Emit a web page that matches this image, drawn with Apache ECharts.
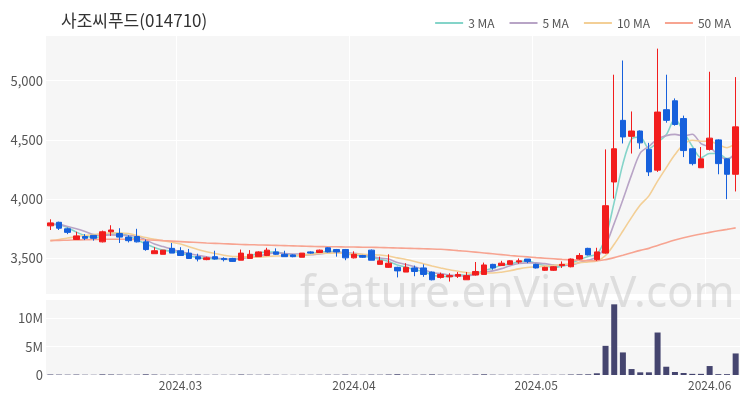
<!DOCTYPE html>
<html>
<head>
<meta charset="utf-8">
<script src="https://cdn.jsdelivr.net/npm/echarts@6/dist/echarts.min.js"></script>
<style>
  html, body { margin: 0; padding: 0; background: #fff; }
  #main { width: 750px; height: 400px; }
</style>
</head>
<body>
<div id="main"></div>
<script>
// 종목명
const stockName = '사조씨푸드(014710)'

// 거래일 (카테고리)
const dates = [
  '2024-02-07','2024-02-08','2024-02-13','2024-02-14','2024-02-15','2024-02-16','2024-02-19','2024-02-20','2024-02-21','2024-02-22',
  '2024-02-23','2024-02-26','2024-02-27','2024-02-28','2024-02-29','2024-03-04','2024-03-05','2024-03-06','2024-03-07','2024-03-08',
  '2024-03-11','2024-03-12','2024-03-13','2024-03-14','2024-03-15','2024-03-18','2024-03-19','2024-03-20','2024-03-21','2024-03-22',
  '2024-03-25','2024-03-26','2024-03-27','2024-03-28','2024-03-29','2024-04-01','2024-04-02','2024-04-03','2024-04-04','2024-04-05',
  '2024-04-08','2024-04-09','2024-04-11','2024-04-12','2024-04-15','2024-04-16','2024-04-17','2024-04-18','2024-04-19','2024-04-22',
  '2024-04-23','2024-04-24','2024-04-25','2024-04-26','2024-04-29','2024-04-30','2024-05-02','2024-05-03','2024-05-07','2024-05-08',
  '2024-05-09','2024-05-10','2024-05-13','2024-05-14','2024-05-16','2024-05-17','2024-05-20','2024-05-21','2024-05-22','2024-05-23',
  '2024-05-24','2024-05-27','2024-05-28','2024-05-29','2024-05-30','2024-05-31','2024-06-03','2024-06-04','2024-06-05','2024-06-07'
]

// 시가 / 종가 / 저가 / 고가
const openP = [
  3775,3805,3750,3660,3685,3695,3640,3725,3710,3680,
  3685,3640,3540,3535,3585,3565,3545,3515,3490,3515,
  3500,3500,3485,3500,3515,3525,3555,3535,3530,3510,
  3555,3550,3590,3575,3575,3505,3525,3570,3450,3425,
  3425,3385,3420,3420,3385,3340,3345,3350,3320,3360,
  3365,3450,3440,3450,3470,3495,3450,3400,3400,3440,
  3430,3495,3585,3490,3545,4145,4665,4530,4575,4420,
  4245,4755,4830,4680,4425,4265,4420,4500,4340,4210
]
const closeP = [
  3800,3755,3720,3690,3670,3670,3725,3740,3680,3650,
  3640,3575,3565,3570,3545,3525,3500,3495,3505,3495,
  3490,3475,3545,3535,3555,3570,3535,3515,3515,3545,
  3545,3570,3555,3555,3505,3535,3510,3485,3480,3460,
  3395,3425,3390,3365,3320,3365,3355,3365,3355,3390,
  3445,3420,3460,3480,3480,3475,3420,3425,3430,3450,
  3495,3525,3530,3555,3945,4425,4525,4575,4475,4230,
  4735,4665,4630,4410,4300,4340,4515,4300,4210,4610
]
const lowP = [
  3740,3740,3705,3660,3655,3650,3635,3690,3630,3635,
  3635,3565,3540,3535,3545,3525,3500,3475,3485,3490,
  3475,3470,3485,3500,3515,3520,3530,3515,3510,3510,
  3540,3550,3550,3515,3485,3500,3505,3485,3450,3420,
  3340,3385,3350,3345,3315,3330,3305,3335,3320,3355,
  3365,3405,3440,3450,3455,3460,3415,3395,3395,3420,
  3425,3490,3525,3480,3540,4005,4470,4385,4425,4195,
  4230,4645,4620,4355,4285,4265,4410,4210,4000,4065
]
const highP = [
  3830,3810,3760,3725,3705,3695,3735,3780,3755,3695,
  3750,3660,3595,3570,3630,3595,3580,3540,3515,3565,
  3510,3505,3575,3570,3560,3590,3585,3565,3535,3545,
  3560,3575,3595,3580,3580,3560,3530,3575,3515,3535,
  3430,3460,3440,3450,3390,3380,3375,3385,3385,3470,
  3465,3455,3480,3485,3500,3495,3455,3430,3435,3475,
  3500,3545,3590,3590,4420,5050,5170,4740,4580,4475,
  5270,5050,4850,4705,4430,4440,5075,4505,4345,5030
]

// 거래량
const volume = [
  90000,70000,60000,80000,50000,40000,110000,90000,70000,50000,
  60000,120000,80000,50000,60000,50000,60000,70000,40000,50000,
  40000,50000,90000,60000,50000,70000,50000,40000,30000,50000,
  40000,50000,60000,50000,80000,50000,40000,70000,60000,90000,
  130000,70000,60000,70000,110000,60000,50000,40000,50000,90000,
  120000,60000,50000,50000,40000,50000,70000,40000,40000,50000,
  90000,110000,120000,300000,5140000,12460000,3980000,1050000,470000,470000,
  7490000,1460000,530000,350000,200000,200000,1580000,150000,150000,3800000
]

// 이동평균선
const ma3 = [
  3785,3785,3758,3722,3693,3677,3688,3712,3715,3690,
  3657,3622,3593,3570,3560,3547,3523,3507,3500,3498,
  3497,3487,3503,3518,3545,3553,3553,3540,3522,3525,
  3535,3553,3557,3560,3538,3532,3517,3510,3492,3475,
  3445,3427,3403,3393,3358,3350,3347,3362,3358,3370,
  3397,3418,3442,3453,3473,3478,3458,3440,3425,3435,
  3458,3490,3517,3537,3677,3975,4298,4508,4525,4427,
  4480,4543,4677,4568,4447,4350,4385,4385,4342,4373
]
const ma5 = [
  3795,3785,3770,3750,3727,3701,3695,3699,3697,3693,
  3687,3657,3622,3600,3579,3556,3541,3527,3514,3504,
  3497,3492,3502,3508,3520,3536,3548,3542,3538,3536,
  3531,3538,3546,3554,3546,3544,3532,3518,3503,3494,
  3466,3449,3430,3407,3379,3373,3359,3354,3352,3366,
  3382,3395,3414,3439,3457,3463,3463,3456,3446,3440,
  3444,3465,3486,3511,3610,3796,3996,4205,4389,4446,
  4508,4536,4547,4534,4548,4469,4439,4373,4333,4395
]
const ma10 = [
  3650,3660,3672,3684,3694,3702,3710,3714,3714,3710,
  3694,3676,3661,3649,3636,3622,3599,3575,3557,3542,
  3527,3517,3515,3511,3512,3517,3520,3522,3523,3528,
  3534,3543,3544,3546,3541,3538,3535,3532,3529,3520,
  3505,3491,3474,3455,3437,3420,3404,3392,3380,3373,
  3378,3377,3384,3396,3412,3423,3429,3435,3443,3449,
  3454,3464,3471,3479,3525,3620,3731,3846,3950,4028,
  4152,4266,4376,4462,4497,4489,4488,4460,4434,4472
]
const ma50 = [
  3650,3652,3654,3656,3658,3660,3661,3662,3662,3661,
  3660,3657,3654,3650,3646,3642,3638,3634,3630,3627,
  3624,3621,3618,3616,3614,3612,3610,3608,3606,3604,
  3602,3600,3599,3598,3597,3596,3595,3594,3592,3590,
  3588,3586,3584,3582,3580,3577,3572,3566,3560,3553,
  3546,3539,3532,3525,3519,3513,3507,3502,3497,3492,
  3488,3484,3481,3480,3490,3507,3527,3548,3568,3585,
  3610,3633,3655,3675,3692,3706,3720,3733,3745,3758
]

const upColor = '#f21d1d'
const downColor = '#1660dc'
const maColors = ['#84d4c9', '#b8a4c6', '#f3cf96', '#f7a491']

// 월이 바뀌는 날에만 라벨 표시
function isMonthStart(idx) {
  if (idx === 0) return false
  return dates[idx].slice(0, 7) !== dates[idx - 1].slice(0, 7)
}

let myChart = echarts.init(document.getElementById('main'))

let candleData = dates.map(function (d, i) {
  return [openP[i], closeP[i], lowP[i], highP[i]]
})

function maSeries(name, data, color) {
  return {
    name: name,
    type: 'line',
    data: data,
    xAxisIndex: 0,
    yAxisIndex: 0,
    showSymbol: false,
    smooth: 0.3,
    lineStyle: { width: 1.6, color: color },
    itemStyle: { color: color },
    z: 3
  }
}

let option = {
  animation: false,
  textStyle: { fontFamily: 'Noto Sans CJK KR, Noto Sans, sans-serif' },
  title: {
    text: stockName,
    left: 56,
    top: 7,
    textStyle: { fontSize: 17, fontWeight: 'normal', color: '#333' }
  },
  legend: {
    right: 14,
    top: 12,
    icon: 'rect',
    itemWidth: 28,
    itemHeight: 2,
    itemGap: 15,
    textStyle: { fontSize: 12, color: '#555' },
    data: ['3 MA', '5 MA', '10 MA', '50 MA']
  },
  graphic: [{
    type: 'text',
    left: 300,
    top: 272,
    z: 1,
    silent: true,
    style: {
      text: 'feature.enViewV.com',
      fontSize: 44,
      fontFamily: 'Noto Sans',
      fill: 'rgba(190,190,190,0.45)'
    }
  }],
  grid: [
    { left: 46, right: 10, top: 35, height: 259, show: true, backgroundColor: '#f6f6f6', borderWidth: 0 },
    { left: 46, right: 10, top: 299, height: 76, show: true, backgroundColor: '#f6f6f6', borderWidth: 0 }
  ],
  xAxis: [
    {
      type: 'category',
      data: dates,
      gridIndex: 0,
      axisLine: { show: false },
      axisTick: { show: false },
      axisLabel: { show: false },
      splitLine: { show: true, interval: function (idx) { return isMonthStart(idx) }, lineStyle: { color: '#fff' } }
    },
    {
      type: 'category',
      data: dates,
      gridIndex: 1,
      axisLine: { show: false },
      axisTick: { show: false },
      splitLine: { show: false },
      axisLabel: {
        margin: 4,
        fontSize: 12,
        color: '#555',
        interval: function (idx) { return isMonthStart(idx) },
        formatter: function (v) { return v.slice(0, 7).replace('-', '.') }
      }
    }
  ],
  yAxis: [
    {
      type: 'value',
      gridIndex: 0,
      min: 3200,
      max: 5385,
      axisLine: { show: false },
      axisTick: { show: false },
      axisLabel: { fontSize: 13, color: '#555', margin: 3, showMinLabel: false, showMaxLabel: false },
      splitLine: { lineStyle: { color: '#fff', width: 1 } }
    },
    {
      type: 'value',
      gridIndex: 1,
      min: 0,
      max: 13400000,
      interval: 5000000,
      axisLine: { show: false },
      axisTick: { show: false },
      axisLabel: {
        fontSize: 13,
        color: '#555',
        margin: 3,
        showMaxLabel: false,
        formatter: function (v) { return v === 0 ? '0' : (v / 1000000) + 'M' }
      },
      splitLine: { lineStyle: { color: '#fff', width: 1 } }
    }
  ],
  series: [
    {
      name: 'price',
      type: 'candlestick',
      data: candleData,
      xAxisIndex: 0,
      yAxisIndex: 0,
      barWidth: 6,
      itemStyle: {
        color: upColor,
        color0: downColor,
        borderColor: upColor,
        borderColor0: downColor,
        borderWidth: 1
      },
      z: 4
    },
    maSeries('3 MA', ma3, maColors[0]),
    maSeries('5 MA', ma5, maColors[1]),
    maSeries('10 MA', ma10, maColors[2]),
    maSeries('50 MA', ma50, maColors[3]),
    {
      name: 'volume',
      type: 'bar',
      data: volume,
      xAxisIndex: 1,
      yAxisIndex: 1,
      barWidth: 6,
      itemStyle: { color: '#45456f' },
      z: 3
    }
  ]
}

myChart.setOption(option)
</script>
</body>
</html>
